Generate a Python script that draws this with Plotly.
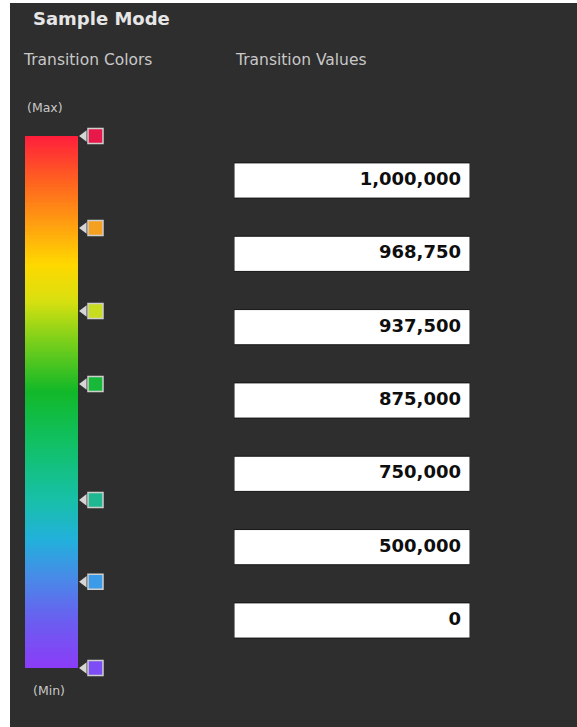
import numpy as np
import plotly.graph_objects as go

W, H = 577, 727

# ---------------- data ----------------
title_text = "Sample Mode"
left_header = "Transition Colors"
right_header = "Transition Values"
max_label = "(Max)"
min_label = "(Min)"

transition_values = [1000000, 968750, 937500, 875000, 750000, 500000, 0]
# position of each transition marker along the colour bar (0 = min, 1 = max)
stop_positions = [1.0, 0.827, 0.671, 0.534, 0.316, 0.162, 0.0]
stop_colors = ["#e8184a", "#f5a020", "#c8dc20", "#18b838", "#20b890", "#3c9be8", "#7d4ef5"]

# colour gradient of the bar (0 = bottom / min, 1 = top / max)
gradient_positions = [0.0, 0.09, 0.165, 0.24, 0.316, 0.43, 0.52, 0.617, 0.69, 0.758, 0.833, 0.917, 1.0]
gradient_colors = ["#8b3cf7", "#6a5ef0", "#4a88e8", "#22b0dc", "#18c0a8", "#10c060", "#12b828",
                   "#7ed01a", "#d8e010", "#ffd800", "#ffa010", "#ff6020", "#ff1e3c"]

PANEL = "#2e2e2e"


def px_x(p):
    return p / W


def px_y(p):
    return 1 - p / H


fig = go.Figure()

# ---------------- colour bar ----------------
n = 300
edges = np.linspace(0, 1, n + 1)
mids = (edges[:-1] + edges[1:]) / 2
fig.add_trace(go.Heatmap(
    x=[0, 1], y=edges, z=[[m] for m in mids],
    colorscale=[[p, c] for p, c in zip(gradient_positions, gradient_colors)],
    zmin=0, zmax=1, showscale=False, hoverinfo="skip",
    xaxis="x", yaxis="y",
))

# marker pointers
fig.add_trace(go.Scatter(
    x=[1.115] * len(stop_positions), y=stop_positions, mode="markers",
    marker=dict(symbol="triangle-left", size=10, color="#d6d6d6"),
    hoverinfo="skip", cliponaxis=False, xaxis="x", yaxis="y",
))
fig.add_trace(go.Scatter(
    x=[1.33] * len(stop_positions), y=stop_positions, mode="markers",
    marker=dict(symbol="square", size=15, color=stop_colors,
                line=dict(color="#cfcfcf", width=1.5)),
    hoverinfo="skip", cliponaxis=False, xaxis="x", yaxis="y",
))

# ---------------- value boxes ----------------
idx = list(range(len(transition_values)))
shapes = [
    dict(type="rect", xref="paper", yref="paper", x0=0, x1=px_x(10), y0=0, y1=1,
         fillcolor="#ffffff", line=dict(width=0), layer="below"),
    dict(type="rect", xref="paper", yref="paper", x0=0, x1=1, y0=px_y(3), y1=1,
         fillcolor="#ffffff", line=dict(width=0), layer="below"),
]
for i in idx:
    shapes.append(dict(type="rect", xref="x2", yref="y2", x0=0, x1=1, y0=i - 0.24, y1=i + 0.24,
                       fillcolor="#ffffff", line=dict(color="#151515", width=1), layer="below"))

fig.add_trace(go.Scatter(
    x=[0.962] * len(idx), y=idx, mode="text",
    text=[f"{v:,}" for v in transition_values], textposition="middle left",
    textfont=dict(family="DejaVu Sans", size=18, color="#0e0e0e", weight="bold"),
    hoverinfo="skip", cliponaxis=False, xaxis="x2", yaxis="y2",
))

# ---------------- text ----------------
annotations = [
    dict(text="<b>" + title_text + "</b>", x=px_x(31), y=px_y(18),
         font=dict(family="DejaVu Sans", size=18, color="#e6e6e6")),
    dict(text=left_header, x=px_x(21), y=px_y(60),
         font=dict(family="DejaVu Sans", size=15.5, color="#c8c8c8")),
    dict(text=right_header, x=px_x(233), y=px_y(60),
         font=dict(family="DejaVu Sans", size=15.5, color="#c8c8c8")),
    dict(text=max_label, x=px_x(25), y=px_y(107),
         font=dict(family="DejaVu Sans", size=12.5, color="#c8c8c8")),
    dict(text=min_label, x=px_x(31), y=px_y(690),
         font=dict(family="DejaVu Sans", size=12.5, color="#c8c8c8")),
]
for a in annotations:
    a.update(xref="paper", yref="paper", xanchor="left", yanchor="middle", showarrow=False)

bar_top, bar_bottom = 136, 668
row0, row_step = 180.5, 73.33
axis_off = dict(visible=False, showgrid=False, zeroline=False, fixedrange=True)

fig.update_layout(
    width=W, height=H, margin=dict(l=0, r=0, t=0, b=0),
    paper_bgcolor=PANEL, plot_bgcolor="rgba(0,0,0,0)",
    showlegend=False, shapes=shapes, annotations=annotations,
    xaxis=dict(domain=[px_x(25), px_x(105)], range=[0, 80 / 53], anchor="y", **axis_off),
    yaxis=dict(domain=[px_y(bar_bottom), px_y(bar_top)], range=[0, 1], anchor="x", **axis_off),
    xaxis2=dict(domain=[px_x(234), px_x(470)], range=[0, 1], anchor="y2", **axis_off),
    yaxis2=dict(domain=[px_y(row0 + 6.5 * row_step), px_y(row0 - 0.5 * row_step)],
                range=[6.5, -0.5], anchor="x2", **axis_off),
)

fig.write_html(
    "out.html",
    config={"displayModeBar": False, "staticPlot": True},
    post_script=("document.body.style.margin='0';document.body.style.overflow='hidden';"
                 "document.body.style.background='" + PANEL + "';"
                 "document.documentElement.style.background='" + PANEL + "';"),
)
